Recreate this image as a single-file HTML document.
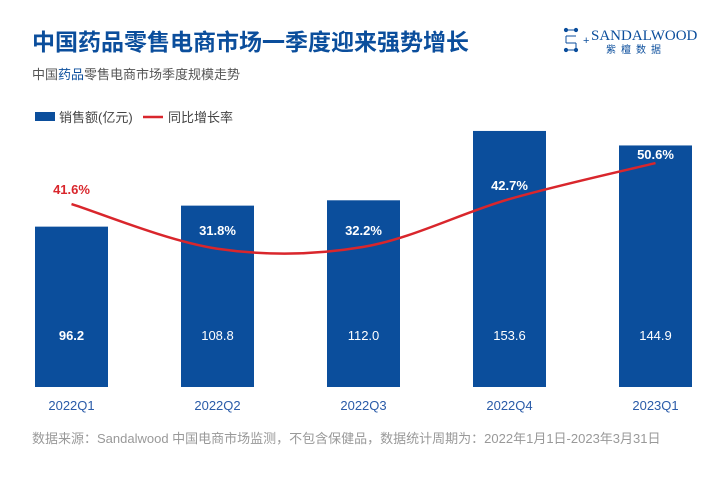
<!DOCTYPE html>
<html><head><meta charset="utf-8"><style>
body{margin:0;background:#fff;width:720px;height:477px;overflow:hidden;font-family:"Liberation Sans","Noto Sans CJK SC",sans-serif;}
svg{display:block}
</style></head><body>
<svg width="720" height="477" xmlns="http://www.w3.org/2000/svg">
<text x="32" y="50" font-size="23" font-weight="bold" fill="#0b4e9c" font-family="Liberation Sans,Noto Sans CJK SC,sans-serif">中国药品零售电商市场一季度迎来强势增长</text>
<text x="32" y="79" font-size="13" fill="#555" font-family="Liberation Sans,Noto Sans CJK SC,sans-serif">中国<tspan fill="#0b4e9c">药品</tspan>零售电商市场季度规模走势</text>
<g fill="#0b4e9c" stroke="#0b4e9c">
<path d="M566 43 V36 M566 36 H576 M566 43 H576 M576 43 V50 M566 50 H576 M566 30 H576" fill="none" stroke-width="1"/>
<circle cx="566" cy="30" r="1.6"/><circle cx="576" cy="30" r="1.6"/><circle cx="566" cy="50" r="1.6"/><circle cx="576" cy="50" r="1.6"/>
<text x="583" y="44" font-size="11" stroke="none">+</text>
<text x="591" y="40" font-size="15" stroke="none" font-family="Liberation Serif,serif">SANDALWOOD</text>
<text x="606" y="53" font-size="10" stroke="none" letter-spacing="5" font-family="Liberation Sans,Noto Sans CJK SC,sans-serif">紫檀数据</text>
</g>
<g>
<rect x="35" y="112" width="20" height="9" fill="#0b4e9c"/>
<text x="59" y="122" font-size="13" fill="#444" font-family="Liberation Sans,Noto Sans CJK SC,sans-serif">销售额(亿元)</text>
<line x1="143" y1="117" x2="163" y2="117" stroke="#d9262c" stroke-width="2.5"/>
<text x="168" y="122" font-size="13" fill="#444" font-family="Liberation Sans,Noto Sans CJK SC,sans-serif">同比增长率</text>
</g>
<g id="bars"></g><g id="line"></g><g id="labels"></g>
<text x="32" y="443" font-size="13" fill="#999" font-family="Liberation Sans,Noto Sans CJK SC,sans-serif">数据来源：Sandalwood 中国电商市场监测，不包含保健品，数据统计周期为：2022年1月1日-2023年3月31日</text>
</svg>
<script>
const categories=["2022Q1","2022Q2","2022Q3","2022Q4","2023Q1"];
const sales=[96.2,108.8,112.0,153.6,144.9];
const salesLabels=["96.2","108.8","112.0","153.6","144.9"];
const growth=[41.6,31.8,32.2,42.7,50.6];
const growthLabels=["41.6%","31.8%","32.2%","42.7%","50.6%"];
const NS="http://www.w3.org/2000/svg";
const x0=35,step=146,bw=73,base=387;
const xc=i=>x0+i*step+bw/2;
const yBar=v=>base-v*1.667;
const yLine=v=>393.6-v*4.556;
const bars=document.getElementById('bars'),labels=document.getElementById('labels'),lineG=document.getElementById('line');
function txt(x,y,s,fill,size,bold,parent){const t=document.createElementNS(NS,'text');t.setAttribute('x',x);t.setAttribute('y',y);t.setAttribute('text-anchor','middle');t.setAttribute('font-size',size);t.setAttribute('fill',fill);if(bold)t.setAttribute('font-weight','bold');t.textContent=s;parent.appendChild(t);return t;}
categories.forEach((c,i)=>{
 const r=document.createElementNS(NS,'rect');
 r.setAttribute('x',x0+i*step);r.setAttribute('y',yBar(sales[i]));r.setAttribute('width',bw);r.setAttribute('height',base-yBar(sales[i]));r.setAttribute('fill','#0b4e9c');
 
 
 bars.appendChild(r);
 const v=txt(xc(i),340,salesLabels[i],'#fff',13,i===0,labels);
 
 
 const a=txt(xc(i),410,c,'#2a5ba8',13,false,labels);
 
 
});
const pts=growth.map((g,i)=>[xc(i),yLine(g)]);
let d='M'+pts[0][0]+','+pts[0][1];
for(let i=0;i<pts.length-1;i++){
 const p0=pts[Math.max(0,i-1)],p1=pts[i],p2=pts[i+1],p3=pts[Math.min(pts.length-1,i+2)];
 const t=1/3;
 const c1=[p1[0]+(p2[0]-p0[0])*t/2,p1[1]+(p2[1]-p0[1])*t/2];
 const c2=[p2[0]-(p3[0]-p1[0])*t/2,p2[1]-(p3[1]-p1[1])*t/2];
 d+=' C'+c1+' '+c2+' '+p2;
}
const path=document.createElementNS(NS,'path');
path.setAttribute('d',d);path.setAttribute('fill','none');path.setAttribute('stroke','#d9262c');path.setAttribute('stroke-width','2.5');


lineG.appendChild(path);
growth.forEach((g,i)=>{
 const below=(i===1||i===2);
 const y=below?235:yLine(g)-(i===0?10:i===3?9:4);
 const t=txt(xc(i),y,growthLabels[i],below||i>=3?'#fff':'#d9262c',13,true,labels);
 
 
});
</script>
</body></html>
